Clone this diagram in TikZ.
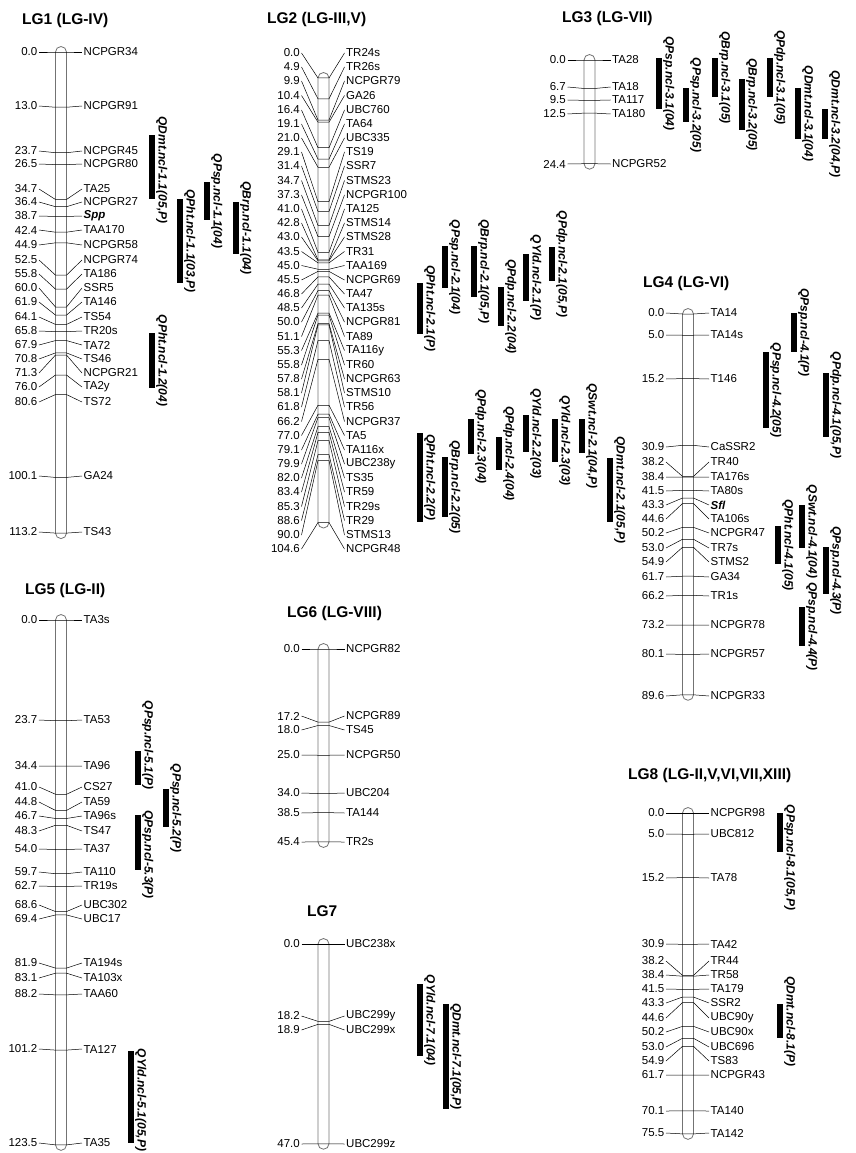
\documentclass[tikz,border=0pt]{standalone}
\usepackage{fontspec}
\setmainfont{Liberation Sans}
\usepackage{tikz}
\usetikzlibrary{calc}
% one linkage group: name, x of axis, y of 0 cM, length (cM), markers cM/label y/name
\newcommand{\linkmap}[5]{%
  \draw[chromo] ({#2-5.5},{#3-5.5}) rectangle ({#2+5.5},{#3+4.25*#4+5.5});
  \foreach \cm/\ly/\mk [count=\i] in {#5} {
    \node[cmlabel] (#1c\i) at ({#2-22},\ly) {\cm};
    \node[mklabel] (#1m\i) at ({#2+21},\ly) {\mk};
    \coordinate (#1l\i) at ({#2-5.5},{#3+4.25*\cm});
    \coordinate (#1r\i) at ({#2+5.5},{#3+4.25*\cm});
    \draw[mkline] (#1c\i.east) -- (#1l\i) -- (#1r\i) -- (#1m\i.west);
  }
}
% QTL intervals: x/top/bottom/label shift/label
\newcommand{\qtlbars}[2]{%
  \foreach \bx/\ya/\yb/\sh/\qn [count=\j] in {#2} {
    \fill (\bx,\ya) rectangle ({\bx+5.5},\yb);
    \node[qtllabel] (#1q\j) at ({\bx+6},{(\ya+\yb)/2+\sh}) {\qn};
  }
}
\newcommand{\locus}[1]{{\bfseries\itshape #1}}

\begin{document}
\begin{tikzpicture}[
  x=1pt, y=-1pt,
  lgtitle/.style={anchor=west, inner sep=0pt, font=\fontsize{15.5}{16}\selectfont\bfseries},
  cmlabel/.style={anchor=east, inner sep=1.5pt, font=\fontsize{11.5}{12}\selectfont},
  mklabel/.style={anchor=west, inner sep=1.5pt, font=\fontsize{11.5}{12}\selectfont},
  chromo/.style={draw=black!55, line width=0.8pt, rounded corners=5.5pt},
  mkline/.style={draw=black, line width=0.5pt},
  qtllabel/.style={rotate=-90, anchor=south, inner sep=1pt, font=\fontsize{12}{12}\selectfont\bfseries\itshape}
]
\useasboundingbox (0,0) rectangle (856,1153);

% titles
\node[lgtitle] (lg1) at (22,20) {LG1 (LG-IV)};
\node[lgtitle] (lg2) at (267,19) {LG2 (LG-III,V)};
\node[lgtitle] (lg3) at (562,18) {LG3 (LG-VII)};
\node[lgtitle] (lg4) at (643,283) {LG4 (LG-VI)};
\node[lgtitle] (lg5) at (25,590) {LG5 (LG-II)};
\node[lgtitle] (lg6) at (287,613) {LG6 (LG-VIII)};
\node[lgtitle] (lg7) at (307,911) {LG7};
\node[lgtitle] (lg8) at (628,775) {LG8 (LG-II,V,VI,VII,XIII)};

% LG1
\linkmap{a}{61}{52}{113.2}{0.0/52/NCPGR34, 13.0/106/NCPGR91, 23.7/151/NCPGR45, 26.5/164/NCPGR80,
  34.7/189/TA25, 36.4/202/NCPGR27, 38.7/216/\locus{Spp}, 42.4/230/TAA170, 44.9/245/NCPGR58,
  52.5/260/NCPGR74, 55.8/274/TA186, 60.0/288/SSR5, 61.9/302/TA146, 64.1/317/TS54, 65.8/331/TR20s,
  67.9/345/TA72, 70.8/359/TS46, 71.3/373/NCPGR21, 76.0/387/TA2y, 80.6/402/TS72, 100.1/476/GA24,
  113.2/532/TS43}
\qtlbars{a}{149/135/199/3/{QDmt.ncl-1.1(05,P)}, 177/199/283/0/{QPht.ncl-1.1(03,P)},
  204/182/220/0/{QPsp.ncl-1.1(04)}, 233/202/254/0/{QBrp.ncl-1.1(04)}, 149/333/388/0/{QPht.ncl-1.2(04)}}

% LG2
\linkmap{b}{323.5}{78}{104.6}{0.0/53/TR24s, 4.9/67/TR26s, 9.9/81/NCPGR79, 10.4/95.5/GA26,
  16.4/110/UBC760, 19.1/124/TA64, 21.0/138/UBC335, 29.1/152/TS19, 31.4/166/SSR7, 34.7/180.5/STMS23,
  37.3/195/NCPGR100, 41.0/209/TA125, 42.8/223/STMS14, 43.0/237/STMS28, 43.5/251.5/TR31,
  45.0/265.5/TAA169, 45.5/280/NCPGR69, 46.8/294/TA47, 48.5/308/TA135s, 50.0/322/NCPGR81,
  51.1/336.5/TA89, 55.3/350.5/TA116y, 55.8/365/TR60, 57.8/379/NCPGR63, 58.1/393/STMS10,
  61.8/407/TR56, 66.2/421.5/NCPGR37, 77.0/435.5/TA5, 79.1/450/TA116x, 79.9/464/UBC238y,
  82.0/478/TS35, 83.4/492/TR59, 85.3/506.5/TR29s, 88.6/520.5/TR29, 90.0/535/STMS13, 104.6/549/NCPGR48}
\qtlbars{b}{417/283/334/0/{QPht.ncl-2.1(P)}, 442/246/288/0/{QPsp.ncl-2.1(04)},
  471/246/297/0/{QBrp.ncl-2.1(05,P)}, 498/287/326/0/{QPdp.ncl-2.2(04)}, 523/254/301/0/{QYld.ncl-2.1(P)},
  549/247/281/0/{QPdp.ncl-2.1(05,P)}, 417/433/522/0/{QPht.ncl-2.2(P)}, 442/457/517/0/{QBrp.ncl-2.2(05)},
  468/419/454/0/{QPdp.ncl-2.3(04)}, 496/437/470/0/{QPdp.ncl-2.4(04)}, 523/415/452/0/{QYld.ncl-2.2(03)},
  552/419/462/0/{QYld.ncl-2.3(03)}, 579/419/453/0/{QSwt.ncl-2.1(04,P)}, 607/458/522/0/{QDmt.ncl-2.1(05,P)}}

% LG3
\linkmap{c}{589.5}{60}{24.4}{0.0/60/TA28, 6.7/87/TA18, 9.5/100/TA117, 12.5/114/TA180, 24.4/164/NCPGR52}
\qtlbars{c}{656/58/109/0/{QPsp.ncl-3.1(04)}, 683/88/122/0/{QPsp.ncl-3.2(05)}, 712/58/97/0/{QBrp.ncl-3.1(05)},
  739/79/130/0/{QBrp.ncl-3.2(05)}, 767/58/97/0/{QPdp.ncl-3.1(05)}, 795/88/139/0/{QDmt.ncl-3.1(04)},
  822/109/139/0/{QDmt.ncl-3.2(04,P)}}

% LG4
\linkmap{d}{688}{314}{89.6}{0.0/313/TA14, 5.0/335/TA14s, 15.2/379/T146, 30.9/447/CaSSR2, 38.2/462/TR40,
  38.4/477/TA176s, 41.5/491/TA80s, 43.3/505/\locus{Sfl}, 44.6/519/TA106s, 50.2/533/NCPGR47,
  53.0/548/TR7s, 54.9/562/STMS2, 61.7/577/GA34, 66.2/596/TR1s, 73.2/625/NCPGR78, 80.1/654/NCPGR57,
  89.6/696/NCPGR33}
\qtlbars{d}{791/313/352/0/{QPsp.ncl-4.1(P)}, 763/352/428/0/{QPsp.ncl-4.2(05)}, 823/373/437/0/{QPdp.ncl-4.1(05,P)},
  799/505/548/5/{QSwt.ncl-4.1(04)}, 775/526/564/0/{QPht.ncl-4.1(05)}, 823/547/594/0/{QPsp.ncl-4.3(P)},
  799/607/646/0/{QPsp.ncl-4.4(P)}}

% LG5
\linkmap{e}{61}{620}{123.5}{0.0/620/TA3s, 23.7/720/TA53, 34.4/766/TA96, 41.0/787/CS27, 44.8/802/TA59,
  46.7/816/TA96s, 48.3/831/TS47, 54.0/849/TA37, 59.7/872/TA110, 62.7/886/TR19s, 68.6/905/UBC302,
  69.4/919/UBC17, 81.9/963/TA194s, 83.1/978/TA103x, 88.2/994/TAA60, 101.2/1049/TA127, 123.5/1143/TA35}
\qtlbars{e}{135/751/785/-23/{QPsp.ncl-5.1(P)}, 163/789/827/0/{QPsp.ncl-5.2(P)}, 135/815/870/12/{QPsp.ncl-5.3(P)},
  128/1051/1143/3/{QYld.ncl-5.1(05,P)}}

% LG6
\linkmap{f}{323.5}{649}{45.4}{0.0/649/NCPGR82, 17.2/716/NCPGR89, 18.0/730/TS45, 25.0/755/NCPGR50,
  34.0/793/UBC204, 38.5/813/TA144, 45.4/842/TR2s}

% LG7
\linkmap{g}{323.5}{944}{47.0}{0.0/944/UBC238x, 18.2/1016/UBC299y, 18.9/1030/UBC299x, 47.0/1144/UBC299z}
\qtlbars{g}{417/984/1056/0/{QYld.ncl-7.1(04)}, 443/1004/1109/0/{QDmt.ncl-7.1(05,P)}}

% LG8
\linkmap{h}{688}{813}{75.5}{0.0/813/NCPGR98, 5.0/834/UBC812, 15.2/878/TA78, 30.9/944/TA42, 38.2/961/TR44,
  38.4/975/TR58, 41.5/989/TA179, 43.3/1003/SSR2, 44.6/1018/UBC90y, 50.2/1032/UBC90x, 53.0/1047/UBC696,
  54.9/1061/TS83, 61.7/1075/NCPGR43, 70.1/1111/TA140, 75.5/1133/TA142}
\qtlbars{h}{777/813/852/25/{QPsp.ncl-8.1(05,P)}, 777/1004/1038/0/{QDmt.ncl-8.1(P)}}
\end{tikzpicture}
\end{document}
